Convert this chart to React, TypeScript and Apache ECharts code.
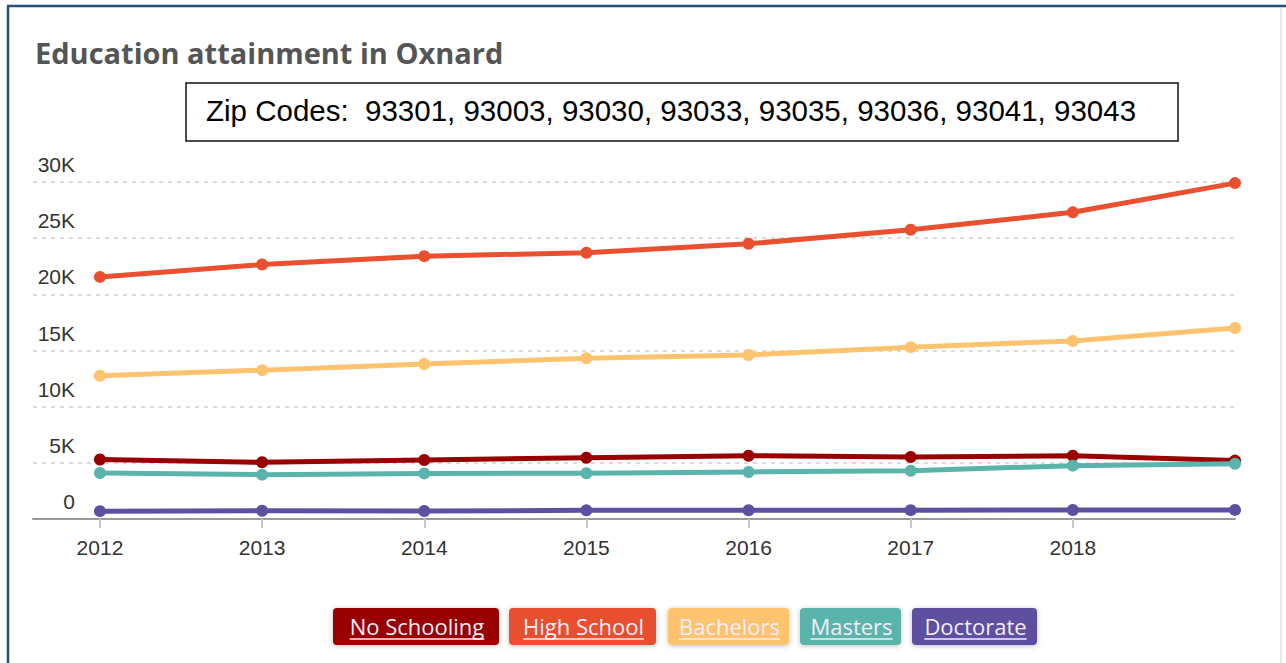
import React, { useEffect, useRef } from "react";
import * as echarts from "echarts";

const years = [2012, 2013, 2014, 2015, 2016, 2017, 2018, 2019];
const labelYears = [2012, 2013, 2014, 2015, 2016, 2017, 2018];
const noSchooling = [5300, 5050, 5250, 5450, 5630, 5520, 5630, 5200];
const highSchool = [21550, 22650, 23400, 23700, 24500, 25750, 27300, 29900];
const bachelors = [12750, 13250, 13800, 14300, 14600, 15300, 15850, 17000];
const masters = [4100, 3950, 4060, 4070, 4190, 4300, 4750, 4920];
const doctorate = [700, 740, 710, 770, 780, 790, 800, 810];
const seriesNames = ["No Schooling", "High School", "Bachelors", "Masters", "Doctorate"];
const seriesColors = ["#990000", "#E8502F", "#FDC36E", "#5AB4AC", "#5E50A1"];
const title = "Education attainment in Oxnard";
const zipText = "Zip Codes:  93301, 93003, 93030, 93033, 93035, 93036, 93041, 93043";

const W = 1286;
const H = 663;

function measure(text: string, font: string): number {
  const c = document.createElement("canvas").getContext("2d");
  if (!c) return text.length * 10;
  c.font = font;
  return c.measureText(text).width;
}

export default function App() {
  const ref = useRef<HTMLDivElement>(null);
  useEffect(() => {
    document.body.style.margin = "0";
    if (!ref.current) return;
    const chart = echarts.init(ref.current, null, { renderer: "svg" });
    const allData = [noSchooling, highSchool, bachelors, masters, doctorate];

    const legendBoxes = [
      { x: 333, w: 166 },
      { x: 509, w: 147 },
      { x: 668, w: 121 },
      { x: 800, w: 101 },
      { x: 912, w: 125 },
    ];
    const legendFont = "22px 'Open Sans'";
    const legendGraphics: any[] = [];
    seriesNames.forEach((name, i) => {
      const b = legendBoxes[i];
      const tw = measure(name, legendFont);
      const cx = b.x + b.w / 2 + 1;
      legendGraphics.push({
        type: "rect",
        shape: { x: b.x, y: 608, width: b.w, height: 37, r: 4 },
        style: {
          fill: seriesColors[i],
          shadowBlur: 5,
          shadowColor: "rgba(0,0,0,0.25)",
          shadowOffsetY: 1,
        },
        z: 10,
      });
      legendGraphics.push({
        type: "text",
        x: cx,
        y: 626,
        style: {
          text: name,
          fill: "#f4eefa",
          font: legendFont,
          align: "center",
          verticalAlign: "middle",
        },
        z: 11,
      });
      legendGraphics.push({
        type: "line",
        shape: { x1: cx - tw / 2, y1: 639, x2: cx + tw / 2, y2: 639 },
        style: { stroke: "#f4eefa", lineWidth: 1.5 },
        z: 11,
      });
    });

    chart.setOption({
      animation: false,
      backgroundColor: "#ffffff",
      grid: { left: 33, right: 51, top: 182, bottom: 144, containLabel: false },
      xAxis: {
        type: "value",
        min: 2011.587,
        max: 2019,
        axisLine: { show: true, lineStyle: { color: "#9a9a9a", width: 2 } },
        axisTick: {
          show: true,
          customValues: labelYears,
          length: 9,
          lineStyle: { color: "#c8c8c8", width: 2 },
        },
        axisLabel: {
          customValues: labelYears,
          formatter: (v: number) => String(Math.round(v)),
          color: "#333",
          fontFamily: "Liberation Sans",
          fontSize: 21,
          margin: 18,
        },
        splitLine: { show: false },
      },
      yAxis: {
        type: "value",
        min: 0,
        max: 30000,
        interval: 5000,
        axisLine: { show: false },
        axisTick: { show: false },
        axisLabel: {
          inside: true,
          align: "right",
          verticalAlign: "bottom",
          margin: 42,
          padding: [0, 0, 7, 0],
          color: "#333",
          fontFamily: "Liberation Sans",
          fontSize: 21,
          formatter: (v: number) => (v === 0 ? "0" : v / 1000 + "K"),
        },
        splitLine: {
          show: true,
          lineStyle: { color: "#d0d0d0", type: [4, 5], width: 1.5 },
        },
      },
      series: seriesNames.map((name, i) => ({
        name,
        type: "line",
        data: years.map((y, j) => [y, allData[i][j]]),
        symbol: "circle",
        symbolSize: 12,
        showSymbol: true,
        lineStyle: { color: seriesColors[i], width: 5 },
        itemStyle: { color: seriesColors[i] },
        emphasis: { disabled: true },
        z: 3 + i,
      })),
      graphic: [
        {
          type: "line",
          shape: { x1: 7, y1: 6, x2: W, y2: 6 },
          style: { stroke: "#24507d", lineWidth: 2.5 },
        },
        {
          type: "line",
          shape: { x1: 8, y1: 6, x2: 8, y2: H },
          style: { stroke: "#24507d", lineWidth: 2.5 },
        },
        {
          type: "line",
          shape: { x1: 1281, y1: 8, x2: 1281, y2: H },
          style: { stroke: "#e2e2e2", lineWidth: 1.5 },
        },
        {
          type: "text",
          x: 35,
          y: 52,
          style: {
            text: title,
            fill: "#555555",
            font: "bold 29px 'Open Sans'",
            verticalAlign: "middle",
          },
        },
        {
          type: "rect",
          shape: { x: 186, y: 83, width: 992, height: 58 },
          style: { fill: "#ffffff", stroke: "#111", lineWidth: 1.5 },
        },
        {
          type: "text",
          x: 206,
          y: 110,
          style: {
            text: zipText,
            fill: "#000",
            font: "29.5px 'Liberation Sans'",
            verticalAlign: "middle",
          },
        },
        ...legendGraphics,
      ],
    });
    return () => chart.dispose();
  }, []);
  return (
    <div
      ref={ref}
      style={{ position: "fixed", left: 0, top: 0, width: W, height: H, background: "#fff" }}
    />
  );
}
